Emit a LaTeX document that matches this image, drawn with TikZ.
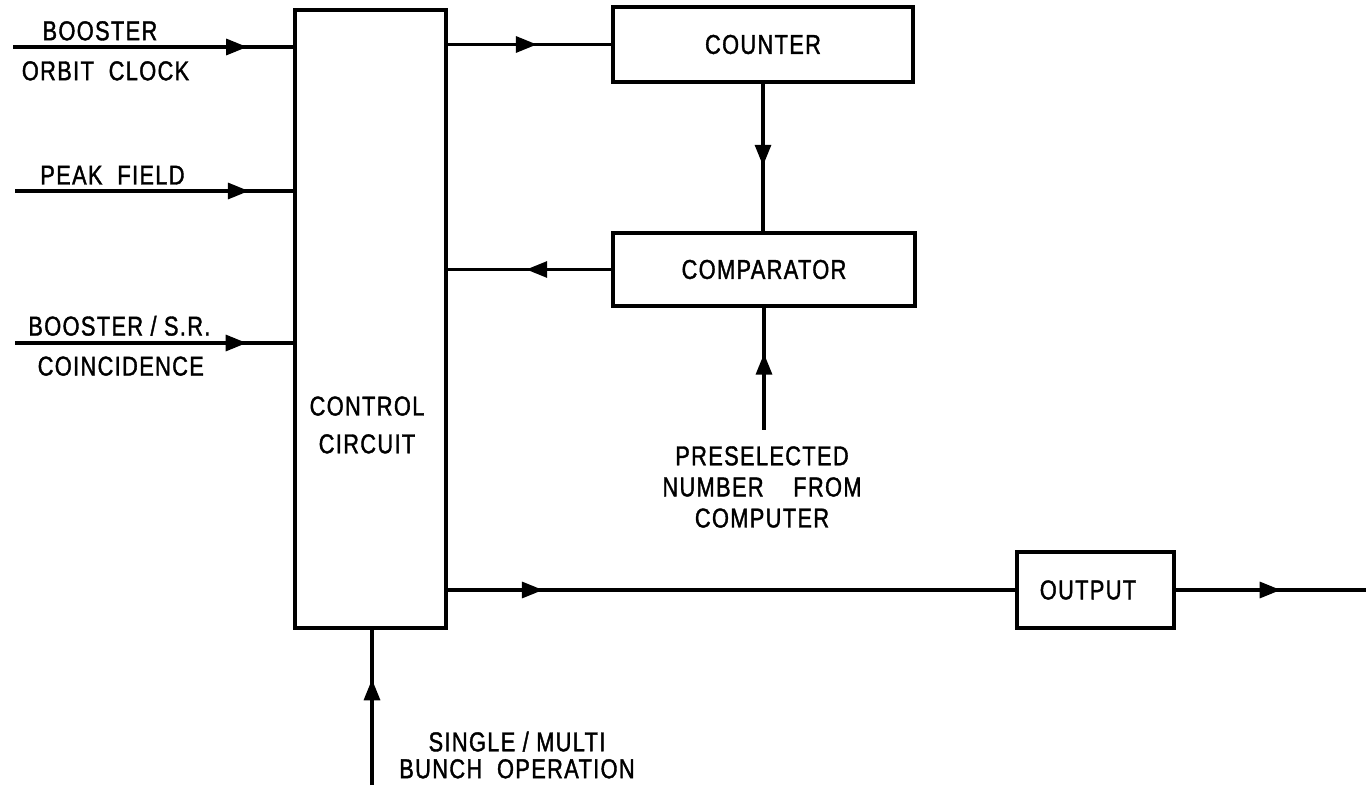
\documentclass[tikz,border=0pt]{standalone}
\usepackage{fontspec}
\setmainfont[FakeStretch=0.8, LetterSpace=5, FakeBold=1.4]{Liberation Sans}
\usetikzlibrary{arrows.meta, positioning, decorations.markings}

\begin{document}
\begin{tikzpicture}[x=0.02cm, y=-0.02cm,
      >=Stealth,
      line width=1.8pt,
      blk/.style={draw, inner sep=0pt, font=\fontsize{15.5}{17.5}\selectfont},
      txt/.style={font=\fontsize{15.5}{17.5}\selectfont, inner sep=0pt},
      mid/.style={postaction={decorate}, decoration={markings,
        mark=at position #1 with {\arrow{Triangle[length=4.2mm, width=3.2mm]}}}}]
    \useasboundingbox (0,0) rectangle (1366,793);
    \node[blk, minimum width=3.02cm, minimum height=12.36cm] (ctrl) at (370.5,319) {};
    \node[txt, align=center] (ctrltxt) at (367,425) {CONTROL\\[4pt]CIRCUIT};
    \node[blk, minimum width=6cm, minimum height=1.5cm] (cnt) at (763,44.5) {COUNTER};
    \node[blk, minimum width=6.04cm, minimum height=1.46cm] (cmp) at (764,269.5) {COMPARATOR};
    \node[blk, minimum width=3.14cm, minimum height=1.52cm] (out) at (1095.5,590) {\hspace{-0.3cm}OUTPUT};
    \coordinate (inA) at (13,47);
    \coordinate (inB) at (15,191);
    \coordinate (inC) at (15,343);
    \coordinate (preIn) at (764,430);
    \coordinate (opIn) at (372,785);
    \coordinate (outR) at (1366,590);
    \node[txt, align=center] (preTxt) at (762,487) {PRESELECTED\\[0.2pt]NUMBER\ \ \ \ FROM\\[0.2pt]COMPUTER};
    \node[txt, align=center] (opTxt) at (517,755) {SINGLE / MULTI\\[-2.2pt]BUNCH\ \ OPERATION};
    \draw[mid=0.835] (inA) -- node[txt, pos=0.31, above=2.8pt] {BOOSTER}
      node[txt, pos=0.33, below=7.2pt] {ORBIT\ \ CLOCK} (inA -| ctrl.west);
    \draw[mid=0.84] (inB) -- node[txt, pos=0.35, above=2.8pt] {PEAK\ \ FIELD} (inB -| ctrl.west);
    \draw[mid=0.832] (inC) -- node[txt, pos=0.375, above=3.2pt] {BOOSTER / S.R.}
      node[txt, pos=0.38, below=6.8pt] {COINCIDENCE} (inC -| ctrl.west);
    \draw[mid=0.545] (cnt.west -| ctrl.east) -- (cnt.west);
    \draw[mid=0.556] (cnt.south) -- (cnt.south |- cmp.north);
    \draw[mid=0.52] (cmp.west) -- (cmp.west -| ctrl.east);
    \draw[mid=0.624] (preIn) -- (preIn |- cmp.south);
    \draw[mid=0.168] (out.west -| ctrl.east) -- (out.west);
    \draw[mid=0.552] (out.east) -- (outR);
    \draw[mid=0.68] (opIn) -- (opIn |- ctrl.south);
  \end{tikzpicture}
\end{document}
